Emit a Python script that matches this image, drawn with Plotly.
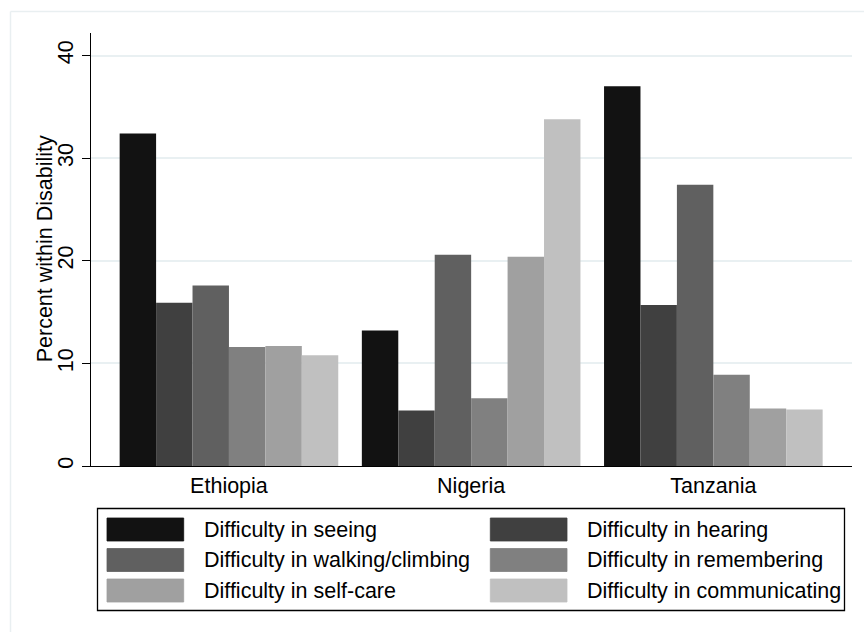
import plotly.graph_objects as go

# Share of each disability type by country (percent within disability)
countries = ["Ethiopia", "Nigeria", "Tanzania"]
series_names = [
    "Difficulty in seeing",
    "Difficulty in hearing",
    "Difficulty in walking/climbing",
    "Difficulty in remembering",
    "Difficulty in self-care",
    "Difficulty in communicating",
]
seeing = [32.4, 13.2, 37.0]
hearing = [15.9, 5.4, 15.7]
walking = [17.6, 20.6, 27.4]
remembering = [11.6, 6.6, 8.9]
selfcare = [11.7, 20.4, 5.6]
communicating = [10.8, 33.8, 5.5]
y_ticks = [0, 10, 20, 30, 40]
y_title = "Percent within Disability"

series_values = [seeing, hearing, walking, remembering, selfcare, communicating]
colors = ["#121212", "#404040", "#606060", "#808080", "#a0a0a0", "#c0c0c0"]

W, H = 864, 632
ML, MR, MT, MB = 91, 12, 33, 166
PW, PH = W - ML - MR, H - MT - MB
FONT = "Liberation Sans, Arial, Helvetica, sans-serif"
FS = 21.5


def px(x):
    return (x - ML) / PW


def py(y):
    return (H - MB - y) / PH


fig = go.Figure()
for name, vals, col in zip(series_names, series_values, colors):
    fig.add_trace(go.Bar(x=countries, y=vals, name=name,
                         marker=dict(color=col, line=dict(width=0)),
                         showlegend=False))

fig.update_layout(
    width=W, height=H,
    margin=dict(l=ML, r=MR, t=MT, b=MB, pad=0),
    paper_bgcolor="white", plot_bgcolor="white",
    barmode="group", bargap=0.0974, bargroupgap=0,
    font=dict(family=FONT, size=FS, color="black"),
    xaxis=dict(type="category", range=[-0.5696, 2.5725],
               showline=True, linecolor="black", linewidth=1.3,
               ticks="", showgrid=False, tickfont=dict(size=FS),
               fixedrange=True),
    yaxis=dict(range=[0, 42.2], tickvals=y_ticks,
               showline=True, linecolor="black", linewidth=1.3,
               ticks="outside", ticklen=8, tickwidth=1.3, tickcolor="black",
               tickangle=-90, tickfont=dict(size=FS),
               showgrid=True, gridcolor="#e9f0f2", gridwidth=1.5,
               zeroline=False, fixedrange=True),
)

shapes = []
# Graph region border (top and left edges)
shapes.append(dict(type="line", xref="paper", yref="paper",
                   x0=px(10.5), x1=px(W + 5), y0=py(11.5), y1=py(11.5),
                   line=dict(color="#e9eff1", width=1.5), layer="below"))
shapes.append(dict(type="line", xref="paper", yref="paper",
                   x0=px(10.5), x1=px(10.5), y0=py(11.5), y1=py(H + 5),
                   line=dict(color="#e9eff1", width=1.5), layer="below"))

# Legend box
shapes.append(dict(type="rect", xref="paper", yref="paper",
                   x0=px(97.5), x1=px(844.5), y0=py(508.5), y1=py(610.5),
                   line=dict(color="black", width=1.3), fillcolor="white"))

annotations = [dict(xref="paper", yref="paper", x=px(45.3), y=py(249),
                    text=y_title, showarrow=False, textangle=-90,
                    xanchor="center", yanchor="middle",
                    font=dict(size=FS, color="black"))]

col_sw_x = [107, 490.3]
col_tx_x = [201.7, 585.3]
row_y = [529.5, 560.0, 590.5]
sw_w, sw_h = 76.7, 23
for i, (name, col) in enumerate(zip(series_names, colors)):
    r, c = divmod(i, 2)
    x0 = col_sw_x[c]
    yc = row_y[r]
    shapes.append(dict(type="rect", xref="paper", yref="paper",
                       x0=px(x0), x1=px(x0 + sw_w),
                       y0=py(yc - sw_h / 2), y1=py(yc + sw_h / 2),
                       line=dict(color=col, width=0.8), fillcolor=col))
    annotations.append(dict(xref="paper", yref="paper", x=px(col_tx_x[c]), y=py(yc),
                            text=name, showarrow=False, xanchor="left",
                            yanchor="middle", font=dict(size=FS, color="black")))

fig.update_layout(shapes=shapes, annotations=annotations)
fig.write_html("out.html")
